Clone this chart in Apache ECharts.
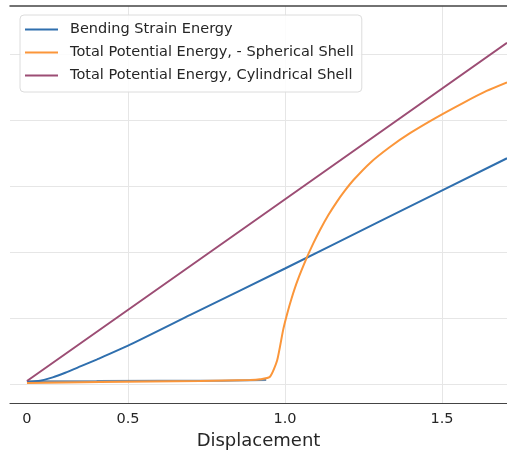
<!DOCTYPE html>
<html>
<head>
<meta charset="utf-8">
<script src="https://cdn.jsdelivr.net/npm/echarts@6/dist/echarts.min.js"></script>
<style>html,body{margin:0;padding:0;background:#fff;}#c{width:507px;height:457px;}</style>
</head>
<body>
<div id="c"></div>
<script>
// Tick labels (x) — the "0" label sits at the start of the curves
const xTickValues = [0.178, 0.5, 1.0, 1.5];
const xTickLabels = ['0', '0.5', '1.0', '1.5'];
const xGridValues = [0.5, 1.0, 1.5];
const yGridValues = [0, 1, 2, 3, 4, 5];

const seriesNames = ['Bending Strain Energy', 'Total Potential Energy, - Spherical Shell', 'Total Potential Energy, Cylindrical Shell'];

// Bending strain energy
const bendX = [0.178, 0.22, 0.26, 0.30, 0.35, 0.40, 0.50, 0.70, 1.00, 1.30, 1.707];
const bendY = [0.03, 0.05, 0.10, 0.17, 0.27, 0.37, 0.58, 1.05, 1.75, 2.46, 3.42];

// Faint near-zero bending trace under the spherical curve
const baseX = [0.178, 0.40, 0.60, 0.80, 0.94];
const baseY = [0.04, 0.045, 0.05, 0.05, 0.06];

// Total potential energy, spherical shell
const spherX = [0.178, 0.411, 0.729, 0.889, 0.920, 0.952, 0.975, 0.994, 1.006, 1.021, 1.040, 1.069, 1.090, 1.111, 1.138, 1.165, 1.190, 1.218, 1.271, 1.334, 1.398, 1.483, 1.568, 1.642, 1.707];
const spherY = [0.015, 0.03, 0.045, 0.06, 0.071, 0.11, 0.36, 0.82, 1.05, 1.30, 1.57, 1.91, 2.13, 2.33, 2.56, 2.76, 2.925, 3.09, 3.35, 3.59, 3.80, 4.04, 4.26, 4.44, 4.57];

// Total potential energy, cylindrical shell
const cylX = [0.178, 0.92, 1.707];
const cylY = [0.045, 2.53, 5.17];

const pairs = (xs, ys) => xs.map((x, i) => [x, ys[i]]);

const chart = echarts.init(document.getElementById('c'), null, {renderer: 'canvas'});
const FONT = 'DejaVu Sans';
chart.setOption({
  animation: false,
  backgroundColor: '#fff',
  textStyle: {fontFamily: FONT},
  grid: {left: 10, right: 0, top: 6, bottom: 54, containLabel: false},
  legend: {
    data: seriesNames,
    orient: 'vertical',
    left: 20, top: 15,
    icon: 'rect',
    itemWidth: 33, itemHeight: 2, itemGap: 6,
    padding: [6, 8, 8, 5],
    backgroundColor: 'rgba(255,255,255,0.85)',
    borderColor: '#dcdcdc', borderWidth: 1, borderRadius: 4,
    textStyle: {fontFamily: FONT, fontSize: 14.5, lineHeight: 17, color: '#262626', padding: [0, 0, 0, 7]}
  },
  xAxis: [
    {
      type: 'value', min: 0.124, max: 1.707, position: 'bottom',
      axisLine: {show: true, onZero: false, lineStyle: {color: '#444', width: 1.2}},
      axisTick: {show: false, customValues: xTickValues},
      axisLabel: {
        customValues: xTickValues, margin: 9,
        fontFamily: FONT, fontSize: 14.5, color: '#262626',
        formatter: function (v) {
          let best = 0;
          xTickValues.forEach((t, i) => { if (Math.abs(t - v) < Math.abs(xTickValues[best] - v)) best = i; });
          return xTickLabels[best];
        }
      },
      splitLine: {show: false},
      name: 'Displacement', nameLocation: 'middle', nameGap: 28,
      nameTextStyle: {fontFamily: FONT, fontSize: 18, color: '#262626'}
    },
    {
      type: 'value', min: 0.124, max: 1.707, position: 'top',
      axisLine: {show: true, onZero: false, lineStyle: {color: '#444', width: 1.5}},
      axisTick: {show: false, customValues: xGridValues},
      axisLabel: {show: false},
      splitLine: {show: true, lineStyle: {color: '#e6e6e6', width: 1}}
    }
  ],
  yAxis: {
    type: 'value', min: -0.288, max: 5.727,
    axisLine: {show: false},
    axisTick: {show: false, customValues: yGridValues},
    axisLabel: {show: false},
    splitLine: {show: true, lineStyle: {color: '#e6e6e6', width: 1}}
  },
  series: [
    {
      name: 'base', type: 'line', xAxisIndex: 0, data: pairs(baseX, baseY),
      symbol: 'none', lineStyle: {color: '#4a6f96', width: 2, opacity: 0.8},
      itemStyle: {color: '#4a6f96'}, z: 1
    },
    {
      name: seriesNames[0], type: 'line', xAxisIndex: 0, data: pairs(bendX, bendY),
      symbol: 'none', smooth: 0.2,
      lineStyle: {color: '#2f6fae', width: 2}, itemStyle: {color: '#2f6fae'}, z: 2
    },
    {
      name: seriesNames[1], type: 'line', xAxisIndex: 0, data: pairs(spherX, spherY),
      symbol: 'none', smooth: 0.2,
      lineStyle: {color: '#fb963a', width: 2}, itemStyle: {color: '#fb963a'}, z: 3
    },
    {
      name: seriesNames[2], type: 'line', xAxisIndex: 0, data: pairs(cylX, cylY),
      symbol: 'none',
      lineStyle: {color: '#9c4d74', width: 2}, itemStyle: {color: '#9c4d74'}, z: 4
    }
  ]
});
</script>
</body>
</html>
